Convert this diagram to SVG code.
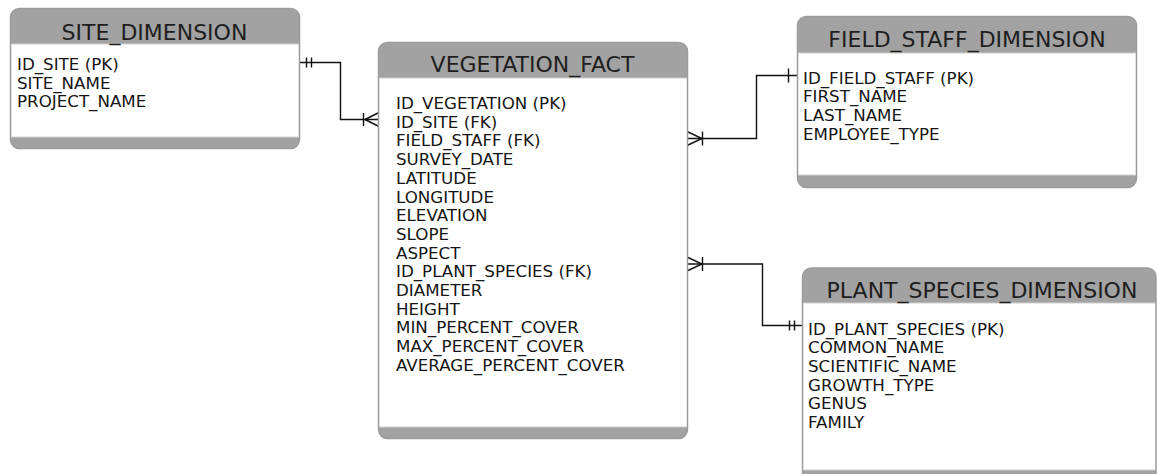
<svg xmlns="http://www.w3.org/2000/svg" width="1157" height="474" viewBox="0 0 1157 474">
  <style>
    .frame { fill: #a2a2a2; stroke: #9c9c9c; stroke-width: 1.5; }
    .body { fill: #ffffff; }
    .sep { stroke: #cfcfcf; stroke-width: 1; }
    .title { font-family: "DejaVu Sans", sans-serif; font-size: 22px; fill: #1e1e1e; text-anchor: middle; }
    .field { font-family: "DejaVu Sans", sans-serif; font-size: 16.7px; fill: #151515; }
    .link { fill: none; stroke: #111111; stroke-width: 1.4; }
  </style>

  <!-- connectors -->
  <g id="connectors">
    <!-- SITE_DIMENSION -> VEGETATION_FACT -->
    <path class="link" d="M299 62.5 H340.5 V119.5 H379"/>
    <path class="link" d="M306.5 57.5 V67.5 M311.5 57.5 V67.5"/>
    <path class="link" d="M363.5 113 V126 M365 119.5 L379 112.5 M365 119.5 L379 126.5"/>
    <!-- VEGETATION_FACT -> FIELD_STAFF_DIMENSION -->
    <path class="link" d="M687 138.5 H756.5 V75.5 H798"/>
    <path class="link" d="M687 131.5 L702 138.5 L687 145.5 M702.5 131.5 V145.5"/>
    <path class="link" d="M788.5 68.5 V82.5"/>
    <!-- VEGETATION_FACT -> PLANT_SPECIES_DIMENSION -->
    <path class="link" d="M687 264 H762.5 V325.5 H803"/>
    <path class="link" d="M687 257 L702 264 L687 271 M702.5 257 V271"/>
    <path class="link" d="M789.5 320.5 V330.5 M794.5 320.5 V330.5"/>
  </g>

  <!-- SITE_DIMENSION -->
  <g id="site_dimension">
    <rect class="frame" x="10.5" y="8.5" width="289" height="140" rx="9"/>
    <rect class="body" x="11.3" y="44" width="287.4" height="93"/>
    <line class="sep" x1="11.3" y1="44" x2="298.7" y2="44"/>
    <line class="sep" x1="11.3" y1="137" x2="298.7" y2="137"/>
    <text class="title" x="154.5" y="40">SITE_DIMENSION</text>
    <text class="field" x="17" y="70">ID_SITE (PK)</text>
    <text class="field" x="17" y="88.6">SITE_NAME</text>
    <text class="field" x="17" y="107.2">PROJECT_NAME</text>
  </g>

  <!-- VEGETATION_FACT -->
  <g id="vegetation_fact">
    <rect class="frame" x="378.5" y="42.5" width="309" height="396" rx="9"/>
    <rect class="body" x="379.3" y="78" width="307.4" height="349"/>
    <line class="sep" x1="379.3" y1="78" x2="686.7" y2="78"/>
    <line class="sep" x1="379.3" y1="427" x2="686.7" y2="427"/>
    <text class="title" x="532.5" y="72">VEGETATION_FACT</text>
    <text class="field" x="396" y="109">ID_VEGETATION (PK)</text>
    <text class="field" x="396" y="127.7">ID_SITE (FK)</text>
    <text class="field" x="396" y="146.4">FIELD_STAFF (FK)</text>
    <text class="field" x="396" y="165.1">SURVEY_DATE</text>
    <text class="field" x="396" y="183.8">LATITUDE</text>
    <text class="field" x="396" y="202.5">LONGITUDE</text>
    <text class="field" x="396" y="221.2">ELEVATION</text>
    <text class="field" x="396" y="239.9">SLOPE</text>
    <text class="field" x="396" y="258.6">ASPECT</text>
    <text class="field" x="396" y="277.3">ID_PLANT_SPECIES (FK)</text>
    <text class="field" x="396" y="296">DIAMETER</text>
    <text class="field" x="396" y="314.7">HEIGHT</text>
    <text class="field" x="396" y="333.4">MIN_PERCENT_COVER</text>
    <text class="field" x="396" y="352.1">MAX_PERCENT_COVER</text>
    <text class="field" x="396" y="370.8">AVERAGE_PERCENT_COVER</text>
  </g>

  <!-- FIELD_STAFF_DIMENSION -->
  <g id="field_staff_dimension">
    <rect class="frame" x="797.5" y="16.5" width="339" height="171" rx="9"/>
    <rect class="body" x="798.3" y="53" width="337.4" height="122"/>
    <line class="sep" x1="798.3" y1="53" x2="1135.7" y2="53"/>
    <line class="sep" x1="798.3" y1="175" x2="1135.7" y2="175"/>
    <text class="title" x="967" y="47">FIELD_STAFF_DIMENSION</text>
    <text class="field" x="803" y="83.5">ID_FIELD_STAFF (PK)</text>
    <text class="field" x="803" y="102.2">FIRST_NAME</text>
    <text class="field" x="803" y="120.9">LAST_NAME</text>
    <text class="field" x="803" y="139.6">EMPLOYEE_TYPE</text>
  </g>

  <!-- PLANT_SPECIES_DIMENSION -->
  <g id="plant_species_dimension">
    <rect class="frame" x="802.5" y="268" width="353.5" height="215" rx="9"/>
    <rect class="body" x="803.3" y="303" width="351.9" height="167"/>
    <line class="sep" x1="803.3" y1="303" x2="1155.2" y2="303"/>
    <line class="sep" x1="803.3" y1="470" x2="1155.2" y2="470"/>
    <text class="title" x="982" y="298">PLANT_SPECIES_DIMENSION</text>
    <text class="field" x="808" y="334.5">ID_PLANT_SPECIES (PK)</text>
    <text class="field" x="808" y="353.2">COMMON_NAME</text>
    <text class="field" x="808" y="371.9">SCIENTIFIC_NAME</text>
    <text class="field" x="808" y="390.6">GROWTH_TYPE</text>
    <text class="field" x="808" y="409.3">GENUS</text>
    <text class="field" x="808" y="428">FAMILY</text>
  </g>
</svg>
